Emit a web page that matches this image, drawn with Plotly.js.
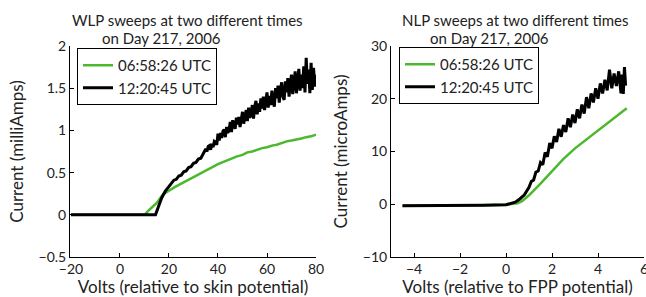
<!DOCTYPE html>
<html><head><meta charset="utf-8">
<script src="https://cdn.plot.ly/plotly-3.0.1.min.js"></script>
<style>html,body{margin:0;padding:0;background:#fff}#chart{width:646px;height:297px}</style>
</head><body><div id="chart"></div>
<script>
// ---- WLP (left) ----
const wlpGreenV = [-20,-10,0,10,12,15,17.5,20,22.5,25,27.5,30,32.5,35,37.5,40,42.5,45,47.5,50,52,54,56,58,60,62,64,66,68,70,72,74,76,78,80];
const wlpGreenI = [0,0,0,0,0.06,0.14,0.24,0.29,0.33,0.37,0.41,0.44,0.49,0.53,0.57,0.60,0.63,0.66,0.69,0.71,0.74,0.75,0.77,0.79,0.80,0.82,0.83,0.85,0.87,0.88,0.89,0.905,0.92,0.93,0.95];
const wlpBlackV = [-20,-10,0,10,14.5,15.5,17,18.5,20,21,22,23,24,25,26,27,28,29,30,31,32,33,34,
  35,35.5,36,36.5,37,37.5,38,38.5,39,39.5,40,40.5,41,41.5,42,42.5,43,43.5,44,44.5,45,45.5,46,46.5,47,47.5,48,48.5,49,49.5,
  50,50.5,51,51.5,52,52.5,53,53.5,54,54.5,55,55.5,56,56.5,57,57.5,58,58.5,59,59.5,
  60,60.5,61,61.5,62,62.5,63,63.5,64,64.5,65,65.5,66,66.5,67,67.5,68,68.5,69,69.5,
  70,70.5,71,71.5,72,72.5,73,73.5,74,74.5,75,75.5,76,76.5,77,77.5,78,78.5,79,79.5,80];
const wlpBlackI = [0,0,0,0,0,0.08,0.2,0.28,0.34,0.37,0.41,0.42,0.46,0.47,0.51,0.52,0.56,0.57,0.61,0.62,0.66,0.67,0.72,
  0.78,0.75,0.81,0.82,0.77,0.84,0.80,0.87,0.86,0.83,0.96,0.88,0.97,0.91,0.99,1.01,0.92,1.04,0.97,1.00,1.10,0.98,1.12,1.05,1.02,1.15,1.07,1.16,1.04,1.13,
  1.22,1.08,1.19,1.24,1.11,1.27,1.15,1.20,1.30,1.14,1.29,1.35,1.19,1.32,1.22,1.38,1.26,1.40,1.24,1.36,
  1.45,1.27,1.41,1.30,1.47,1.35,1.28,1.50,1.38,1.53,1.33,1.48,1.57,1.40,1.36,1.58,1.45,1.62,1.40,1.55,
  1.66,1.43,1.60,1.70,1.44,1.58,1.73,1.47,1.66,1.50,1.76,1.45,1.86,1.55,1.72,1.44,1.80,1.48,1.74,1.52,1.66];

// ---- NLP (right) ----
const nlpGreenV = [-4.5,-3,-2,-1,0,0.3,0.5,0.7,1.0,1.5,2.0,2.5,3.0,3.5,4.0,4.5,5.0,5.25];
const nlpGreenI = [-0.3,-0.3,-0.25,-0.2,-0.1,0.05,0.2,0.6,1.7,3.9,6.3,8.6,10.6,12.3,14.0,15.6,17.3,18.2];
const nlpBlackV = [-4.5,-3,-2,-1,0,0.2,0.4,0.6,0.8,1.0,1.1,1.2,1.3,1.4,1.5,1.6,1.7,1.8,1.9,2.0,2.1,2.2,2.3,2.4,2.5,2.6,2.7,2.8,2.9,3.0,
  3.1,3.2,3.3,3.4,3.5,3.6,3.7,3.8,3.9,4.0,4.1,4.2,4.3,4.4,4.5,4.6,4.7,4.8,4.9,5.0,5.05,5.1,5.15,5.2];
const nlpBlackI = [-0.3,-0.3,-0.25,-0.2,-0.1,0.1,0.4,1.0,1.8,3.2,4.3,4.6,6.1,6.3,7.9,7.5,9.8,9.0,11.6,10.6,12.9,11.8,14.3,12.8,15.0,13.7,16.3,14.6,17.0,15.4,
  18.0,16.3,18.9,17.2,20.3,18.2,21.0,19.3,22.0,20.0,22.9,21.0,23.6,21.6,25.5,22.0,24.8,22.4,25.2,21.0,24.6,20.9,26.0,22.5];

const seriesNames = ['06:58:26 UTC', '12:20:45 UTC'];
const titlesLeft = ['WLP sweeps at two different times', 'on Day 217, 2006'];
const titlesRight = ['NLP sweeps at two different times', 'on Day 217, 2006'];
const xTitles = ['Volts (relative to skin potential)', 'Volts (relative to FPP potential)'];
const yTitles = ['Current (milliAmps)', 'Current (microAmps)'];

const GREEN = '#4cb82e';
const FONT = 'Lato, "Open Sans", sans-serif';
const TXT = '#222';

const traces = [
  {x: wlpGreenV, y: wlpGreenI, name: seriesNames[0], mode: 'lines', line: {color: GREEN, width: 2.5}, xaxis: 'x', yaxis: 'y', legend: 'legend'},
  {x: wlpBlackV, y: wlpBlackI, name: seriesNames[1], mode: 'lines', line: {color: '#000', width: 3}, xaxis: 'x', yaxis: 'y', legend: 'legend'},
  {x: nlpGreenV, y: nlpGreenI, name: seriesNames[0], mode: 'lines', line: {color: GREEN, width: 2.5}, xaxis: 'x2', yaxis: 'y2', legend: 'legend2'},
  {x: nlpBlackV, y: nlpBlackI, name: seriesNames[1], mode: 'lines', line: {color: '#000', width: 3}, xaxis: 'x2', yaxis: 'y2', legend: 'legend2'}
];

const axBase = {showline: true, linecolor: '#000', linewidth: 1, ticks: 'inside', ticklen: 4, tickcolor: '#000',
  showgrid: false, zeroline: false, tickfont: {family: FONT, size: 14, color: TXT}, mirror: false, ticklabeloverflow: 'allow'};
const yDom = [40/297, 251/297];
const axTitleFont = {family: FONT, size: 17, color: TXT};

const legBase = {bordercolor: '#000', borderwidth: 1, bgcolor: '#fff', font: {family: FONT, size: 15, color: TXT},
  xanchor: 'left', yanchor: 'top', tracegroupgap: 0};

const layout = {
  width: 646, height: 297, margin: {l: 0, r: 0, t: 0, b: 0},
  paper_bgcolor: '#fff', plot_bgcolor: '#fff', showlegend: true,
  font: {family: FONT, color: TXT},
  xaxis: Object.assign({}, axBase, {domain: [70/646, 316/646], range: [-20.4, 80], tickvals: [-20,0,20,40,60,80], anchor: 'y',
    ticklabelstandoff: -1, title: {text: xTitles[0], font: axTitleFont, standoff: 5}}),
  yaxis: Object.assign({}, axBase, {domain: yDom, range: [-0.5, 2], tickvals: [-0.5,0,0.5,1,1.5,2], anchor: 'x',
    title: {text: yTitles[0], font: axTitleFont, standoff: 10}}),
  xaxis2: Object.assign({}, axBase, {domain: [391/646, 644/646], range: [-5, 6], tickvals: [-4,-2,0,2,4,6], anchor: 'y2',
    ticklabelstandoff: -1, title: {text: xTitles[1], font: axTitleFont, standoff: 5}}),
  yaxis2: Object.assign({}, axBase, {domain: yDom, range: [-10, 30], tickvals: [-10,0,10,20,30], anchor: 'x2',
    title: {text: yTitles[1], font: axTitleFont, standoff: 10}}),
  legend: Object.assign({}, legBase, {x: 77/646, y: 1 - 48/297}),
  legend2: Object.assign({}, legBase, {x: 399/646, y: 1 - 47/297}),
  annotations: [
    {text: titlesLeft[0], xref: 'paper', yref: 'paper', x: 188/646, y: 1 - 20/297, xanchor: 'center', yanchor: 'middle', showarrow: false, font: {family: FONT, size: 15, color: TXT}},
    {text: titlesLeft[1], xref: 'paper', yref: 'paper', x: 161/646, y: 1 - 38/297, xanchor: 'center', yanchor: 'middle', showarrow: false, font: {family: FONT, size: 15, color: TXT}},
    {text: titlesRight[0], xref: 'paper', yref: 'paper', x: 515/646, y: 1 - 20/297, xanchor: 'center', yanchor: 'middle', showarrow: false, font: {family: FONT, size: 15, color: TXT}},
    {text: titlesRight[1], xref: 'paper', yref: 'paper', x: 489/646, y: 1 - 38/297, xanchor: 'center', yanchor: 'middle', showarrow: false, font: {family: FONT, size: 15, color: TXT}}
  ]
};

Plotly.newPlot('chart', traces, layout, {staticPlot: true, displayModeBar: false});
</script>
</body></html>
